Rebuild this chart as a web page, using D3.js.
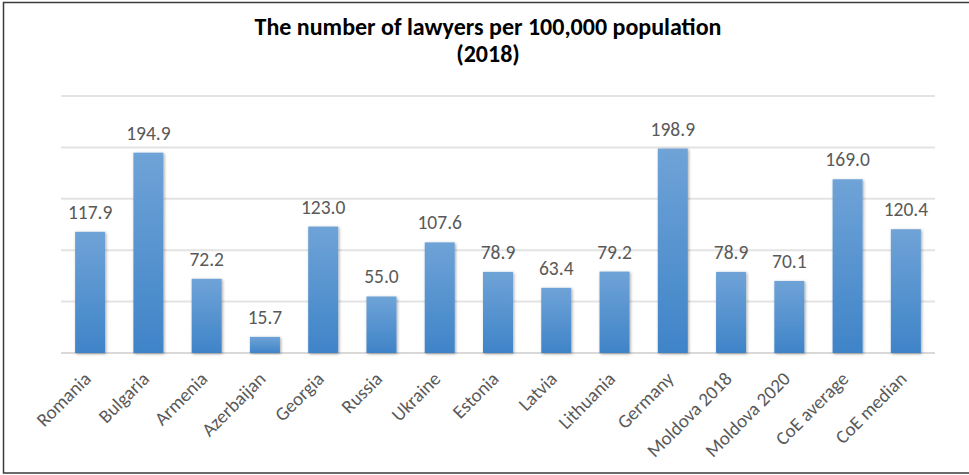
<!DOCTYPE html>
<html><head><meta charset="utf-8">
<script src="https://cdn.jsdelivr.net/npm/d3@7"></script>
<style>body{margin:0;background:#fff;} svg{display:block;}</style>
</head><body>
<svg id="c" width="969" height="475"></svg>
<script>
const categories = ["Romania","Bulgaria","Armenia","Azerbaijan","Georgia","Russia","Ukraine","Estonia","Latvia","Lithuania","Germany","Moldova 2018","Moldova 2020","CoE average","CoE median"];
const values = [117.9,194.9,72.2,15.7,123.0,55.0,107.6,78.9,63.4,79.2,198.9,78.9,70.1,169.0,120.4];
const yTicks = [0,50,100,150,200,250];
const titleLines = ["The number of lawyers per 100,000 population","(2018)"];

const svg = d3.select("#c");
const W = 969, H = 475;
const m = {left:61, right:34, top:96, bottom:122};
const x = d3.scaleBand().domain(categories).range([m.left, W - m.right]).paddingInner(0.485).paddingOuter(0.2425);
const y = d3.scaleLinear().domain([0,250]).range([H - m.bottom, m.top]);

const defs = svg.append("defs");
const g = defs.append("linearGradient").attr("id","bg").attr("x1",0).attr("y1",0).attr("x2",0).attr("y2",1);
g.append("stop").attr("offset","0%").attr("stop-color","#6FA3D7");
g.append("stop").attr("offset","100%").attr("stop-color","#3F84C8");
const f = defs.append("filter").attr("id","sh").attr("x","-30%").attr("y","-10%").attr("width","160%").attr("height","120%");
f.append("feDropShadow").attr("dx",1).attr("dy",1).attr("stdDeviation",1.6).attr("flood-color","#000").attr("flood-opacity",0.35);

// border
svg.append("rect").attr("x",3.5).attr("y",2.5).attr("width",W+5).attr("height",470.5).attr("fill","none").attr("stroke","#3a3a3a").attr("stroke-width",1.5);

// gridlines
svg.append("g").selectAll("line").data(yTicks).join("line")
  .attr("x1",m.left).attr("x2",W - m.right)
  .attr("y1",d=>y(d)).attr("y2",d=>y(d))
  .attr("stroke",d=> d===0 ? "#D9D9D9" : "#E3E3E3").attr("stroke-width",2);

// bars
svg.append("g").selectAll("rect").data(values).join("rect")
  .attr("x",(d,i)=>x(categories[i])).attr("width",x.bandwidth())
  .attr("y",d=>y(d)).attr("height",d=>y(0)-y(d))
  .attr("fill","url(#bg)").attr("filter","url(#sh)");

// value labels
svg.append("g").selectAll("text").data(values).join("text")
  .attr("x",(d,i)=>x(categories[i]) + x.bandwidth()/2)
  .attr("y",d=>y(d) - 13)
  .attr("text-anchor","middle")
  .attr("font-family","Carlito, Lato, 'Open Sans', sans-serif")
  .attr("font-size",19.5).attr("fill","#595959")
  .text(d=>d.toFixed(1));

// category labels
svg.append("g").selectAll("text").data(categories).join("text")
  .attr("transform",d=>`translate(${x(d)+x.bandwidth()/2+2},${y(0)+27}) rotate(-45)`)
  .attr("text-anchor","end")
  .attr("font-family","Carlito, Lato, 'Open Sans', sans-serif")
  .attr("font-size",19).attr("fill","#595959")
  .text(d=>d);

// title
svg.append("g").selectAll("text").data(titleLines).join("text")
  .attr("x",488).attr("y",(d,i)=>35 + i*27)
  .attr("text-anchor","middle")
  .attr("font-family","Carlito, Lato, 'Open Sans', sans-serif")
  .attr("font-weight","bold").attr("font-size",24).attr("fill","#000")
  .text(d=>d);
</script>
</body></html>
